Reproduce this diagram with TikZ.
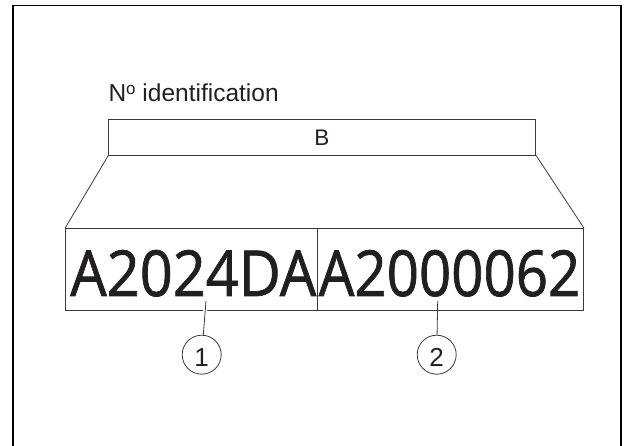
\documentclass[tikz,border=0pt]{standalone}
\usepackage{fontspec}
\usepackage{graphicx}
\setmainfont{Liberation Sans}
\newfontfamily\bigf[FakeBold=1.2]{Open Sans}
\definecolor{ink}{HTML}{231F20}
\definecolor{linec}{HTML}{3A3A3A}
\tikzset{
  frameline/.style={draw=black, line width=1.6pt},
  thin/.style={draw=linec, line width=0.8pt},
  boxcell/.style={thin, rectangle, inner sep=0pt, anchor=north west},
  lbl/.style={text=ink, inner sep=0pt},
  callout/.style={thin, circle, minimum size=39pt, inner sep=0pt},
}
\begin{document}
\begin{tikzpicture}[x=1pt,y=-1pt]
\useasboundingbox (0,0) rectangle (627,446);
% outer frame (open at the bottom)
\draw[frameline] (12.7,452) -- (12.7,5.7) -- (621,5.7) -- (621,452);
% title
\node[lbl, anchor=base west, font=\fontsize{24.5}{28}\selectfont] (title) at (108.3,101.7)
  {N\raisebox{7pt}{\fontsize{17}{18}\selectfont o} identification};
% B box
\node[boxcell, minimum width=427pt, minimum height=36pt] (bbox) at (108.3,118.7) {};
\node[lbl, anchor=base, font=\fontsize{22.5}{26}\selectfont] (btext) at (321.8,146) {B};
% lower cells
\node[boxcell, minimum width=252.3pt, minimum height=81.7pt] (left) at (65,228.3) {};
\node[boxcell, minimum width=266pt, minimum height=81.7pt] (right) at (317.3,228.3) {};
\node[lbl, anchor=base west] (t1) at (70,296) {\resizebox{246pt}{46pt}{\bigf A2024DA}};
\node[lbl, anchor=base west] (t2) at (318.5,296) {\resizebox{261.5pt}{46pt}{\bigf A2000062}};
% trapezoid connectors
\draw[thin] (bbox.south west) -- (left.north west);
\draw[thin] (bbox.south east) -- (right.north east);
% callouts
\node[callout, label={[lbl, font=\fontsize{26}{28}\selectfont, yshift=-3pt]center:1}] (c1) at (201.7,354.7) {};
\node[callout, label={[lbl, font=\fontsize{26}{28}\selectfont, yshift=-3pt]center:2}] (c2) at (436.7,354.7) {};
\coordinate (l1) at (206,301);
\coordinate (l2) at (437.7,301);
\draw[thin, preaction={draw=white, line width=4pt, shorten <=6pt, shorten >=20pt}] (l1) -- (c1);
\draw[thin] (l2) -- (c2);
\end{tikzpicture}
\end{document}
